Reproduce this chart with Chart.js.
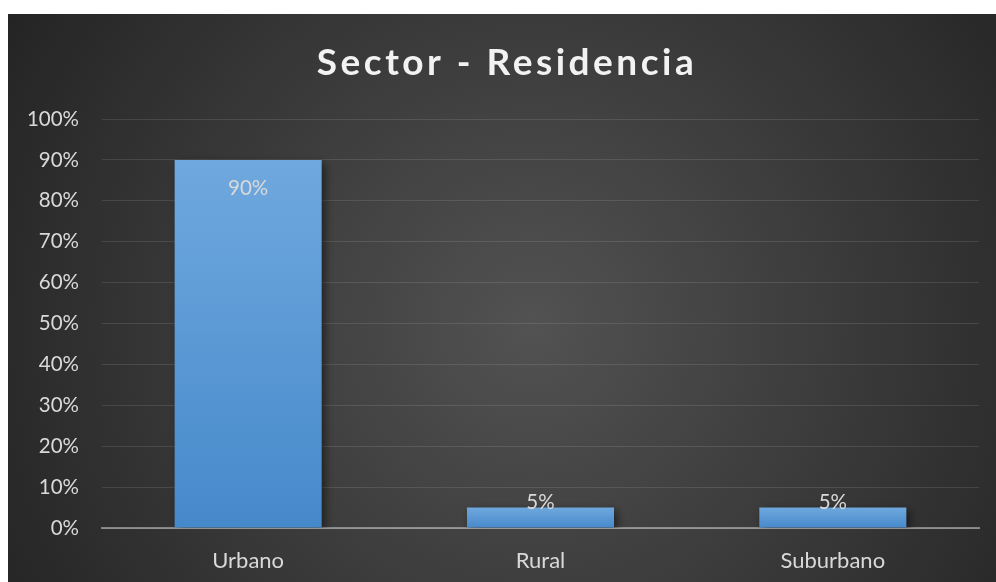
<!DOCTYPE html>
<html>
<head>
<meta charset="utf-8">
<script src="https://cdn.jsdelivr.net/npm/chart.js@4.4.1/dist/chart.umd.min.js"></script>
<style>
  html, body { margin: 0; padding: 0; background: #ffffff; }
  #wrap { position: absolute; left: 8px; top: 14px; width: 988px; height: 568px; }
</style>
</head>
<body>
<div id="wrap"><canvas id="c"></canvas></div>
<script>
const chartTitle = 'Sector - Residencia';
const categories = ['Urbano', 'Rural', 'Suburbano'];
const values = [90, 5, 5];
const yTicks = [0, 10, 20, 30, 40, 50, 60, 70, 80, 90, 100];

const FONT = 'Lato, "Open Sans", sans-serif';

const bgPlugin = {
  id: 'bg',
  beforeDraw(chart) {
    const { ctx, width, height } = chart;
    ctx.save();
    const cx = width * 0.53, cy = height * 0.55;
    const r = Math.sqrt(cx * cx + cy * cy);
    const g = ctx.createRadialGradient(cx, cy, 0, cx, cy, r);
    g.addColorStop(0, '#525252');
    g.addColorStop(1, '#242424');
    ctx.fillStyle = g;
    ctx.fillRect(0, 0, width, height);
    ctx.restore();
  }
};

const shadowPlugin = {
  id: 'barShadow',
  beforeDatasetsDraw(chart) {
    const ctx = chart.ctx;
    ctx.save();
    ctx.shadowColor = 'rgba(0,0,0,0.55)';
    ctx.shadowBlur = 9;
    ctx.shadowOffsetX = 3;
    ctx.shadowOffsetY = 3;
  },
  afterDatasetsDraw(chart) {
    chart.ctx.restore();
  }
};

const titlePlugin = {
  id: 'customTitle',
  afterDraw(chart) {
    const ctx = chart.ctx;
    ctx.save();
    ctx.font = 'bold 37px ' + FONT;
    try { ctx.letterSpacing = '3.5px'; } catch (e) {}
    ctx.fillStyle = '#f2f2f2';
    ctx.textAlign = 'center';
    ctx.textBaseline = 'middle';
    ctx.fillText(chartTitle, chart.width / 2 + 5, 49);
    ctx.restore();
  }
};

const labelPlugin = {
  id: 'valueLabels',
  afterDatasetsDraw(chart) {
    const ctx = chart.ctx;
    const meta = chart.getDatasetMeta(0);
    ctx.save();
    ctx.shadowColor = 'transparent';
    ctx.font = '20.5px ' + FONT;
    ctx.fillStyle = '#d9d9d9';
    ctx.textAlign = 'center';
    ctx.textBaseline = 'middle';
    meta.data.forEach((bar, i) => {
      const y = Math.min(bar.y + 28, bar.base - 25);
      ctx.fillText(values[i] + '%', bar.x, y);
    });
    ctx.restore();
  }
};

new Chart(document.getElementById('c'), {
  type: 'bar',
  data: {
    labels: categories,
    datasets: [{
      data: values,
      categoryPercentage: 1.0,
      barPercentage: 0.503,
      borderWidth: 0,
      backgroundColor(context) {
        const chart = context.chart;
        const { ctx, chartArea, scales } = chart;
        if (!chartArea || context.type !== 'data') return '#5b9bd5';
        const v = context.raw;
        const top = scales.y.getPixelForValue(v);
        const bottom = scales.y.getPixelForValue(0);
        const g = ctx.createLinearGradient(0, top, 0, bottom);
        g.addColorStop(0, '#6fa8de');
        g.addColorStop(1, '#4689cb');
        return g;
      }
    }]
  },
  options: {
    responsive: true,
    maintainAspectRatio: false,
    animation: false,
    layout: { padding: { top: 105, right: 17, bottom: 0, left: 0 } },
    plugins: {
      legend: { display: false },
      title: { display: false },
      tooltip: { enabled: false }
    },
    scales: {
      x: {
        z: 1,
        afterFit(scale) { scale.height = 54; },
        grid: { display: false, drawTicks: false },
        border: { display: true, color: 'rgba(217,217,217,0.5)', width: 2 },
        ticks: { color: '#d9d9d9', font: { family: FONT, size: 22 }, padding: 20 }
      },
      y: {
        min: 0,
        max: 100,
        afterBuildTicks(scale) { scale.ticks = yTicks.map(v => ({ value: v })); },
        afterFit(scale) { scale.width = 94; },
        grid: { color: 'rgba(255,255,255,0.11)', lineWidth: 1, drawTicks: false },
        border: { display: false },
        ticks: {
          color: '#d9d9d9',
          font: { family: FONT, size: 20.5 },
          padding: 23,
          callback: v => v + '%'
        }
      }
    }
  },
  plugins: [bgPlugin, shadowPlugin, labelPlugin, titlePlugin]
});
</script>
</body>
</html>
